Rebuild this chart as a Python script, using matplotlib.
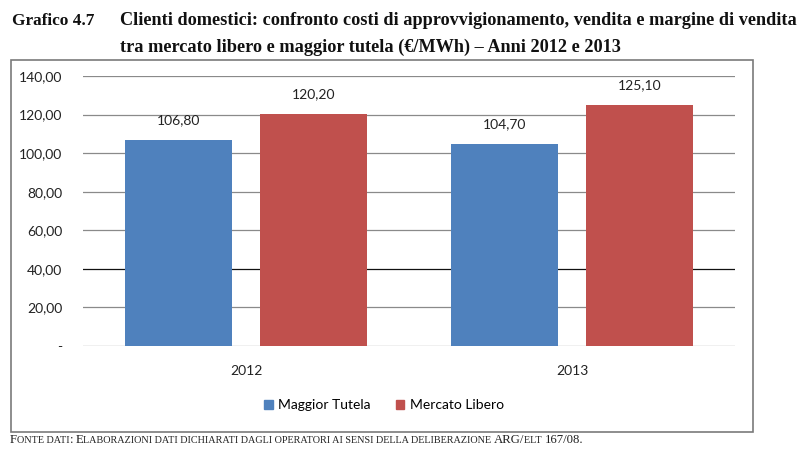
import matplotlib
matplotlib.use("Agg")
import matplotlib.pyplot as plt
from matplotlib.patches import Rectangle, Patch
import numpy as np

categories = ["2012", "2013"]
series_names = ["Maggior Tutela", "Mercato Libero"]
maggior_tutela = [106.80, 104.70]
mercato_libero = [120.20, 125.10]
y_ticks = [0, 20, 40, 60, 80, 100, 120, 140]

title_num = "Grafico 4.7"
title_l1 = "Clienti domestici: confronto costi di approvvigionamento, vendita e margine di vendita"
title_l2 = "tra mercato libero e maggior tutela (€/MWh) – Anni 2012 e 2013"
footer = "Fonte dati: Elaborazioni dati dichiarati dagli operatori ai sensi della deliberazione ARG/elt 167/08."

W, H = 800, 466
fig = plt.figure(figsize=(W / 100, H / 100), dpi=100)
fig.patch.set_facecolor("white")

def fx(px):
    return px / W

def fy(py):
    return 1 - py / H

# outer chart box
box = Rectangle((fx(11), fy(432)), fx(753) - fx(11), fy(60) - fy(432),
                transform=fig.transFigure, facecolor="white",
                edgecolor="#7a7a7a", linewidth=1.2, zorder=-5)
fig.patches.append(box)

ax = fig.add_axes([fx(83), fy(346), fx(735) - fx(83), fy(76) - fy(346)])
ax.set_zorder(2)
ax.set_facecolor("none")
blue = "#4F81BD"
red = "#C0504D"
x = np.arange(len(categories))
bw = 0.331
off = 0.207
b1 = ax.bar(x - off, maggior_tutela, bw, color=blue, zorder=3)
b2 = ax.bar(x + off, mercato_libero, bw, color=red, zorder=3)
ax.set_xlim(-0.5, 1.5)
ax.set_ylim(0, 140)
ax.set_yticks(y_ticks)
ax.set_yticklabels(["-"] + [f"{v:.2f}".replace(".", ",") for v in y_ticks[1:]])
for v in y_ticks:
    ax.axhline(v, color="#111111" if v == 40 else "#8a8a8a", linewidth=0.9, zorder=1)
for s in ax.spines.values():
    s.set_visible(False)
ax.tick_params(axis="both", length=0, labelsize=10, colors="#222222")
ax.tick_params(axis="y", pad=15)
ax.tick_params(axis="x", pad=14)
ax.set_xticks(x)
ax.set_xticklabels(categories)
for lab in ax.get_xticklabels() + ax.get_yticklabels():
    lab.set_fontfamily("Lato")

for bars in (b1, b2):
    for r in bars:
        v = r.get_height()
        ax.annotate(f"{v:.2f}".replace(".", ","), (r.get_x() + r.get_width() / 2, v),
                    xytext=(0, 10), textcoords="offset points", ha="center", va="bottom",
                    fontsize=10, fontfamily="Lato", color="#222222")

leg = fig.legend([Patch(color=blue), Patch(color=red)], series_names,
                 loc="center", bbox_to_anchor=(fx(384), fy(405)), ncol=2, frameon=False,
                 prop={"family": "Lato", "size": 10}, handlelength=0.6, handleheight=0.6,
                 handletextpad=0.4, columnspacing=1.8)

renderer = fig.canvas.get_renderer()

def fit_text(xp, yp, s, target_w, size, **kw):
    t = fig.text(fx(xp), fy(yp), s, fontsize=size, **kw)
    w = t.get_window_extent(renderer).width
    t.set_fontsize(size * target_w / w)
    return t

serif = "Liberation Serif"
fit_text(12, 25, title_num, 82, 11, fontfamily=serif, fontweight="bold", va="baseline", color="#111111")
t1 = fit_text(120, 25, title_l1, 675, 11, fontfamily=serif, fontweight="bold", va="baseline", color="#111111")
fig.text(fx(120), fy(52), title_l2, fontsize=t1.get_fontsize(), fontfamily=serif,
         fontweight="bold", va="baseline", color="#111111")

# footer in small caps
big, small = 9.2, 7.3
parts = []
for ch in footer:
    if ch.isupper() or ch.isdigit() or ch in "/.:":
        parts.append((ch, big))
    else:
        parts.append((ch.upper(), small))
runs = []
for ch, sz in parts:
    if runs and runs[-1][1] == sz:
        runs[-1][0] += ch
    else:
        runs.append([ch, sz])
cur = fx(10)
for s, sz in runs:
    t = fig.text(cur, fy(443), s, fontsize=sz, fontfamily=serif, va="baseline", color="#222222")
    w = t.get_window_extent(renderer).width
    cur += w / W

fig.savefig("out.png", dpi=100, facecolor="white")
